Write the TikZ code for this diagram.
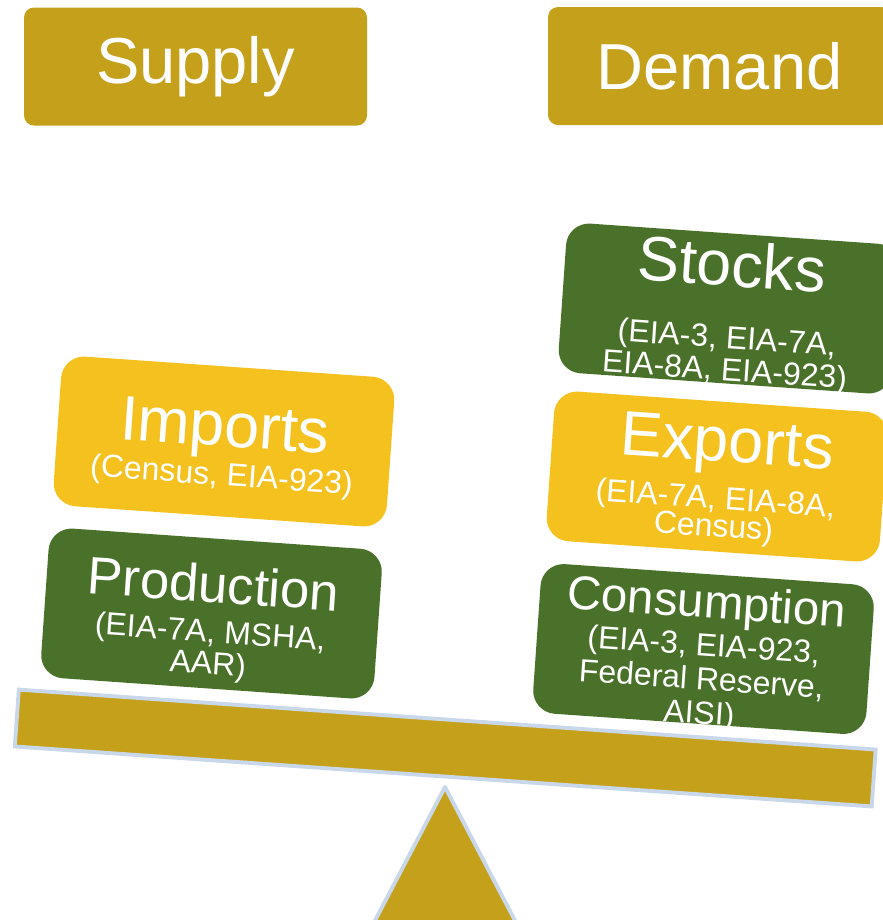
\documentclass[tikz,border=0pt]{standalone}
\usepackage{fontspec}
\setmainfont{Liberation Sans}
\usepackage{tikz}
\usetikzlibrary{calc}
\definecolor{goldcolor}{RGB}{197,161,27}
\definecolor{yellowcolor}{RGB}{244,193,30}
\definecolor{greencolor}{RGB}{74,113,41}
\definecolor{rimcolor}{RGB}{200,216,234}
\newcommand{\tilt}{-4}
\newcommand{\rim}{1.1pt}
\newcommand{\headfont}[1]{\fontsize{#1}{#1}\selectfont}
\newcommand{\sourcefont}[1]{\fontsize{9.1}{#1}\selectfont\lineskiplimit=-\maxdimen}
\tikzset{
  headbox/.style={fill=goldcolor, rounded corners=0.1cm, minimum width=3.43cm, minimum height=1.18cm, text=white, font=\headfont{18.5}},
  flowbox/.style={rounded corners=0.23cm, minimum width=3.34cm, minimum height=1.5cm, rotate=\tilt, inner xsep=0pt, inner ysep={(42.68pt-#1)/2}, text=white, align=center, text height=#1, text depth=0pt},
}

\begin{document}
\begin{tikzpicture}
\useasboundingbox (0,0) rectangle (8.82,-9.20);
%headings
\node[headbox] (supply) at (1.955,-0.665) {Supply};
\node[headbox] (demand) at (7.195,-0.66) {Demand};
%fulcrum
\coordinate (pivot) at (4.45,-7.87);
\draw[rimcolor, fill=goldcolor, line width=\rim, line join=round] (pivot) -- ($(pivot)+(0.907,-1.73)$) -- ($(pivot)+(-0.907,-1.73)$) -- cycle;
%beam
\node[draw=rimcolor, fill=goldcolor, line width=\rim, minimum width=8.59cm, minimum height=0.57cm, rotate=\tilt] (beam) at (4.4525,-7.48) {};
%supply side
\node[flowbox=34.6pt, fill=greencolor, font=\sourcefont{9.1}] (production) at (2.115,-6.135) {{\headfont{15}Production}\\[2.3pt](EIA-7A, MSHA,\\AAR)};
\node[flowbox=25pt, fill=yellowcolor, font=\sourcefont{9.1}] (imports) at (2.24,-4.415) {{\headfont{17.9}Imports}\\[2pt](Census, EIA-923)};
%demand side
\node[flowbox=42.6pt, fill=greencolor, font=\sourcefont{9.7}] (consumption) at (7.035,-6.49) {{\headfont{13.5}Consumption}\\[1.1pt](EIA-3, EIA-923,\\Federal Reserve,\\AISI)};
\node[flowbox=34.3pt, fill=yellowcolor, font=\sourcefont{7.9}] (exports) at (7.17,-4.765) {{\headfont{17.9}\hspace{0.16cm}Exports}\\[5.7pt](EIA-7A, EIA-8A,\\Census)};
\node[flowbox=41pt, fill=greencolor, font=\sourcefont{9.1}] (stocks) at (7.29,-3.085) {{\headfont{17.9}Stocks}\\[8.7pt](EIA-3, EIA-7A,\\EIA-8A, EIA-923)};
\end{tikzpicture}
\end{document}
